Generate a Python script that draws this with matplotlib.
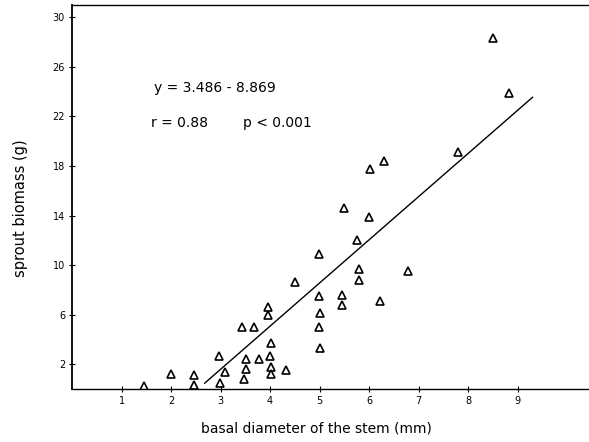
import matplotlib
matplotlib.use("Agg")
import matplotlib.pyplot as plt
import numpy as np

# basal diameter (mm) and sprout biomass (g)
diameter = [1.45, 2.0, 2.47, 2.47, 2.96, 2.98, 3.08, 3.44, 3.68, 3.52, 3.52, 3.48,
            3.78, 3.96, 3.96, 4.02, 4.0, 4.02, 4.02, 4.32, 4.51, 4.99, 4.99, 5.01,
            4.99, 5.01, 5.5, 5.46, 5.46, 5.76, 5.8, 5.8, 6.0, 6.02, 6.3, 6.22,
            6.78, 7.8, 8.5, 8.82]
biomass = [0.25, 1.2, 1.1, 0.3, 2.7, 0.5, 1.35, 5.0, 5.0, 2.45, 1.6, 0.77,
           2.45, 6.65, 6.0, 3.75, 2.7, 1.8, 1.2, 1.5, 8.6, 10.9, 7.5, 6.15,
           5.0, 3.3, 14.6, 7.6, 6.8, 12.05, 9.7, 8.8, 13.9, 17.8, 18.4, 7.1,
           9.5, 19.1, 28.3, 23.9]

slope, intercept = 3.486, -8.869
line_x = [2.68, 9.3]

xticks = [1, 2, 3, 4, 5, 6, 7, 8, 9]
yticks = [2, 6, 10, 14, 18, 22, 26, 30]

fig = plt.figure(figsize=(5.89, 4.42), dpi=100)
ax = fig.add_axes([72/589, 53/442, 1 - 72/589, (389 - 5)/442])

ax.plot(diameter, biomass, linestyle="none", marker="^", markersize=5.5,
        markerfacecolor="white", markeredgecolor="black", markeredgewidth=1.2)
lx = np.array(line_x)
ax.plot(lx, slope * lx + intercept, color="black", linewidth=1.0)

ax.set_xlim(0, 10.44)
ax.set_ylim(0, 31)
ax.set_xticks(xticks)
ax.set_yticks(yticks)
ax.set_xticklabels([str(t) for t in xticks], fontsize=7)
ax.set_yticklabels([str(t) for t in yticks], fontsize=7)
ax.tick_params(axis="both", direction="inout", length=4, width=0.8, pad=3)
ax.spines["right"].set_visible(False)
ax.spines["left"].set_linewidth(1.3)
ax.spines["bottom"].set_linewidth(1.0)
ax.spines["top"].set_linewidth(1.0)

ax.set_xlabel("basal diameter of the stem (mm)", fontsize=10)
ax.xaxis.set_label_coords(0.472, -0.085)
ax.set_ylabel("sprout biomass (g)", fontsize=10.5)
ax.yaxis.set_label_coords(-0.085, 0.47)

ax.text(1.65, 24.3, "y = 3.486 - 8.869", fontsize=10, va="center")
ax.text(1.6, 21.5, "r = 0.88", fontsize=10, va="center")
ax.text(3.45, 21.5, "p < 0.001", fontsize=10, va="center")

fig.savefig("out.png", dpi=100)
